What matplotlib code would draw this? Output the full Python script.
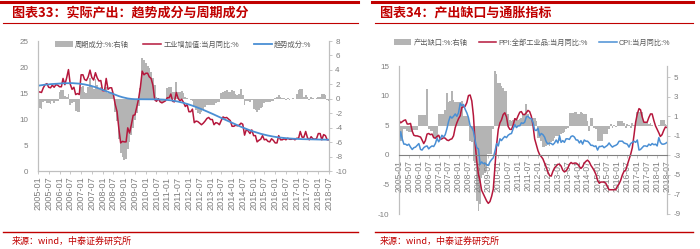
import numpy as np
import pandas as pd
import matplotlib
matplotlib.use('Agg')
import matplotlib.pyplot as plt
import matplotlib.dates as mdates
from matplotlib.lines import Line2D

plt.rcParams['font.family'] = ['Liberation Sans', 'Noto Sans CJK SC']
plt.rcParams['axes.unicode_minus'] = False

months = pd.date_range('2005-01-01', '2018-07-01', freq='MS')

# chart 33: industrial value added yoy, trend and cycle (cycle on right axis)
iva = [15.2, 15.2, 15.1, 16.0, 16.6, 16.8, 16.1, 16.0, 16.5, 16.1, 16.6, 16.5,
       16.2, 16.2, 17.8, 16.6, 17.9, 19.5, 16.7, 15.7, 16.1, 14.7, 14.9, 14.7,
       18.5, 18.5, 17.6, 17.4, 18.1, 19.4, 18.0, 17.5, 18.9, 17.9, 17.3, 17.4,
       15.4, 15.4, 17.8, 15.7, 16.0, 16.0, 14.7, 12.8, 11.4, 8.2, 5.4, 5.7,
       5.6, 5.6, 8.3, 7.3, 8.9, 10.7, 10.8, 12.3, 13.9, 16.1, 19.2, 18.5,
       18.8, 18.8, 18.1, 17.8, 16.5, 13.7, 13.4, 13.9, 13.3, 13.1, 13.3, 13.5,
       14.1, 14.1, 14.8, 13.4, 13.3, 15.1, 14.0, 13.5, 13.8, 13.2, 12.4, 12.8,
       11.4, 11.4, 11.9, 9.3, 9.6, 9.5, 9.2, 8.9, 9.2, 9.6, 10.1, 10.3,
       9.9, 9.9, 8.9, 9.3, 9.2, 8.9, 9.7, 10.4, 10.2, 10.3, 10.0, 9.7,
       8.6, 8.6, 8.8, 8.7, 8.8, 9.2, 9.0, 6.9, 8.0, 7.7, 7.2, 7.9,
       6.8, 6.8, 5.6, 5.9, 6.1, 6.8, 6.0, 6.1, 5.7, 5.6, 6.2, 5.9,
       5.4, 5.4, 6.8, 6.0, 6.0, 6.2, 6.0, 6.3, 6.1, 6.1, 6.2, 6.0,
       6.3, 6.3, 7.6, 6.5, 6.5, 7.6, 6.4, 6.0, 6.6, 6.2, 6.1, 6.2,
       7.2, 7.2, 6.0, 7.0, 6.8, 6.0, 6.0]

trend = [16.4, 16.45, 16.5, 16.55, 16.6, 16.62, 16.65, 16.7, 16.72, 16.75, 16.78, 16.8,
         16.82, 16.85, 16.87, 16.88, 16.9, 16.9, 16.9, 16.9, 16.88, 16.86, 16.84, 16.8,
         16.75, 16.7, 16.65, 16.58, 16.5, 16.42, 16.33, 16.23, 16.12, 16.0, 15.88, 15.75,
         15.62, 15.48, 15.34, 15.2, 15.06, 14.92, 14.78, 14.65, 14.52, 14.4, 14.29, 14.19,
         14.1, 14.02, 13.95, 13.9, 13.86, 13.83, 13.81, 13.8, 13.8, 13.8, 13.8, 13.8,
         13.8, 13.8, 13.8, 13.8, 13.8, 13.8, 13.79, 13.78, 13.77, 13.75, 13.73, 13.7,
         13.67, 13.63, 13.59, 13.54, 13.48, 13.42, 13.35, 13.27, 13.19, 13.1, 13.0, 12.9,
         12.79, 12.68, 12.56, 12.44, 12.31, 12.18, 12.04, 11.9, 11.76, 11.61, 11.46, 11.31,
         11.16, 11.0, 10.85, 10.69, 10.53, 10.37, 10.21, 10.05, 9.89, 9.73, 9.57, 9.41,
         9.25, 9.1, 8.95, 8.8, 8.65, 8.5, 8.36, 8.22, 8.08, 7.95, 7.82, 7.7,
         7.58, 7.47, 7.36, 7.26, 7.16, 7.07, 6.98, 6.9, 6.82, 6.75, 6.68, 6.62,
         6.56, 6.51, 6.46, 6.42, 6.38, 6.34, 6.31, 6.28, 6.25, 6.23, 6.21, 6.19,
         6.17, 6.15, 6.14, 6.13, 6.12, 6.11, 6.1, 6.09, 6.08, 6.07, 6.06, 6.05,
         6.05, 6.04, 6.04, 6.03, 6.03, 6.02, 6.02]

cycle = [-1.3, -1.3, -1.4, -0.4, -0.3, -0.6, -0.6, -0.7, -0.3, -0.6, -0.3, -0.3,
         1.0, 1.2, 1.2, 0.4, 0.3, 0.6, -0.8, -0.6, -0.4, -1.7, -1.8, -1.8,
         1.7, 1.8, 1.0, 0.8, 1.6, 2.9, 1.7, 1.3, 2.7, 1.9, 1.4, 1.6,
         0.9, 0.9, 1.6, 0.8, 0.9, 1.0, 0.4, -1.8, -3.1, -5.5, -7.5, -8.0,
         -8.5, -8.3, -7.0, -6.0, -5.0, -4.0, -3.0, -2.0, -1.0, 1.5, 5.6, 5.4,
         5.0, 4.6, 4.3, 3.7, 2.9, 1.9, 0.3, 0.1, -0.3, -0.4, -0.3, -0.2,
         1.5, 1.6, 1.6, 1.0, 1.0, 2.3, 1.0, 0.9, 1.1, 0.8, 0.3, 0.1,
         0.0, -0.1, -0.3, -1.2, -1.6, -2.0, -2.1, -1.9, -1.6, -1.2, -0.9, -0.8,
         -0.9, -0.8, -0.8, -0.6, -0.5, -0.4, 0.8, 1.0, 1.1, 1.2, 1.0, 0.9,
         1.2, 1.1, 0.6, 0.5, 0.6, 1.4, 0.5, -0.9, -0.3, -0.3, -0.4, -0.2,
         -1.4, -1.5, -1.8, -1.6, -1.3, -1.1, -0.6, -0.5, -0.5, -0.4, -0.3, -0.3,
         0.1, 0.2, 0.5, 0.3, 0.1, 0.1, -0.1, 0.1, -0.1, 0.0, 0.1, 0.0,
         0.6, 1.2, 1.4, 1.3, 0.3, 0.5, 0.2, -0.1, 0.3, 0.1, 0.0, 0.1,
         0.2, 0.3, 0.6, 0.7, 0.5, -0.1, -0.3]

# chart 34: output gap (right axis), PPI and CPI yoy
gap = [-1.5, -1.5, -1.5, -0.3, -0.3, -0.5, -0.6, -0.6, -0.6, -0.4, -0.4, -0.4,
       1.1, 1.1, 1.1, 1.1, 1.1, 3.8, -0.3, -0.5, -0.5, -1.2, -1.2, -1.2,
       1.2, 1.2, 1.2, 1.2, 1.6, 3.4, 2.5, 2.6, 3.6, 2.7, 2.5, 2.4,
       2.5, 2.5, 2.6, 1.0, 1.0, 1.0, 0.9, -1.5, -1.6, -3.6, -3.8, -7.7,
       -8.7, -8.0, -5.3, -5.0, -4.8, -4.6, -2.9, -2.9, -2.9, -0.3, 5.6, 5.3,
       4.4, 4.4, 4.1, 3.9, 3.6, 3.6, 1.2, 0.6, 0.5, 0.6, 0.8, 0.7,
       0.6, 0.7, 0.8, 1.2, 1.2, 2.2, 1.2, 0.8, 0.8, 0.8, 0.8, 0.5,
       -1.2, -1.2, -1.5, -2.2, -2.2, -2.0, -1.8, -2.0, -1.6, -1.5, -1.2, -1.0,
       -1.0, -1.5, -0.8, -0.7, -0.6, -0.3, -0.2, 1.3, 1.3, 1.3, 1.4, 1.4,
       1.2, 1.2, 1.4, 1.3, 1.2, 1.2, 0.5, -0.5, 0.8, 0.8, -0.2, -0.3,
       -1.5, -1.5, -1.5, -1.5, -0.8, -0.8, -0.8, -0.3, 0.2, -0.2, 0.1, -0.1,
       0.5, 0.5, 0.5, 0.5, 0.3, -0.2, 0.2, 0.1, -0.2, 0.3, 0.1, 0.0,
       1.4, 1.4, 1.4, 1.4, 0.3, 0.3, 0.3, 0.2, 0.3, 0.1, 0.0, 0.1,
       0.0, 0.1, 0.6, 0.6, 0.6, 0.2, 0.1]

ppi = [5.8, 5.4, 5.6, 5.8, 5.9, 5.2, 5.2, 5.3, 4.0, 3.3, 3.2, 3.2,
       3.1, 3.0, 2.5, 1.9, 2.4, 3.5, 3.6, 3.4, 3.5, 2.9, 2.8, 3.1,
       3.3, 2.6, 2.7, 2.9, 2.8, 2.5, 2.4, 2.6, 2.7, 3.2, 4.6, 5.4,
       6.1, 6.6, 8.0, 8.1, 8.2, 8.8, 10.0, 10.1, 9.1, 6.6, 2.0, -1.1,
       -3.3, -4.5, -6.0, -6.6, -7.2, -7.8, -8.2, -7.9, -7.0, -5.8, -2.1, 1.7,
       4.3, 5.4, 5.9, 6.8, 7.1, 6.4, 4.8, 4.3, 4.3, 5.0, 6.1, 5.9,
       6.6, 7.2, 7.3, 6.8, 6.8, 7.1, 7.5, 7.3, 6.5, 5.0, 2.7, 1.7,
       0.7, 0.0, -0.3, -0.7, -1.4, -2.1, -2.9, -3.5, -3.6, -2.8, -2.2, -1.9,
       -1.6, -1.6, -1.9, -2.6, -2.9, -2.7, -2.3, -1.6, -1.3, -1.5, -1.4, -1.4,
       -1.6, -2.0, -2.3, -2.0, -1.4, -1.1, -0.9, -1.2, -1.8, -2.2, -2.7, -3.3,
       -4.3, -4.8, -4.6, -4.6, -4.6, -4.8, -5.4, -5.9, -5.9, -5.9, -5.9, -5.9,
       -5.3, -4.9, -4.3, -3.4, -2.8, -2.6, -1.7, -0.8, 0.1, 1.2, 3.3, 5.5,
       6.9, 7.8, 7.6, 6.4, 5.5, 5.5, 5.5, 6.3, 6.9, 6.9, 5.8, 4.9,
       4.3, 3.7, 3.1, 3.4, 4.1, 4.7, 4.6]

cpi = [1.9, 3.9, 2.7, 1.8, 1.8, 1.6, 1.8, 1.3, 0.9, 1.2, 1.3, 1.6,
       1.9, 0.9, 0.8, 1.2, 1.4, 1.5, 1.0, 1.3, 1.5, 1.4, 1.9, 2.8,
       2.2, 2.7, 3.3, 3.0, 3.4, 4.4, 5.6, 6.5, 6.2, 6.5, 6.9, 6.5,
       7.1, 8.7, 8.3, 8.5, 7.7, 7.1, 6.3, 4.9, 4.6, 4.0, 2.4, 1.2,
       1.0, -1.6, -1.2, -1.5, -1.4, -1.7, -1.8, -1.2, -0.8, -0.5, 0.6, 1.9,
       1.5, 2.7, 2.4, 2.8, 3.1, 2.9, 3.3, 3.5, 3.6, 4.4, 5.1, 4.6,
       4.9, 4.9, 5.4, 5.3, 5.5, 6.4, 6.5, 6.2, 6.1, 5.5, 4.2, 4.1,
       4.5, 3.2, 3.6, 3.4, 3.0, 2.2, 1.8, 2.0, 1.9, 1.7, 2.0, 2.5,
       2.0, 3.2, 2.1, 2.4, 2.1, 2.7, 2.7, 2.6, 3.1, 3.2, 3.0, 2.5,
       2.5, 2.0, 2.4, 1.8, 2.5, 2.3, 2.3, 2.0, 1.6, 1.6, 1.4, 1.5,
       0.8, 1.4, 1.4, 1.5, 1.2, 1.4, 1.6, 2.0, 1.6, 1.3, 1.5, 1.6,
       1.8, 2.3, 2.3, 2.3, 2.0, 1.9, 1.8, 1.3, 1.9, 2.1, 2.3, 2.1,
       2.5, 0.8, 0.9, 1.2, 1.5, 1.5, 1.4, 1.8, 1.6, 1.9, 1.7, 1.8,
       1.5, 2.9, 2.1, 1.8, 1.8, 1.9, 2.1]

RED = '#B5173C'
BLUE = '#4A8FD4'
GRAY = '#B4B4B4'
TXT = '#7F7F7F'
SPINE = '#BFBFBF'
HEAD = '#C00000'
CJK = ['Noto Sans CJK SC']


def style_pair(ax, ax2, xfs):
    for a in (ax, ax2):
        a.spines['top'].set_visible(False)
        for s in ('left', 'right', 'bottom'):
            a.spines[s].set_color(SPINE)
            a.spines[s].set_linewidth(0.8)
    ax.tick_params(axis='y', length=0, pad=7, labelsize=5.8, labelcolor=TXT)
    ax2.tick_params(axis='y', length=2.5, width=0.6, color=SPINE, pad=2,
                    labelsize=5.8, labelcolor=TXT)
    ax.tick_params(axis='x', length=2.5, width=0.6, color=SPINE, pad=1.5,
                   labelsize=xfs, labelcolor=TXT, labelrotation=90)
    ax.xaxis.set_major_locator(mdates.MonthLocator(bymonth=[1, 7]))
    ax.xaxis.set_major_formatter(mdates.DateFormatter('%Y-%m'))
    ax.set_xlim(months[0], months[-1])
    ax.set_zorder(ax2.get_zorder() + 1)
    ax.patch.set_visible(False)


fig = plt.figure(figsize=(7, 2.49), dpi=100)

# ---- left chart
ax1 = fig.add_axes([38/700, 1-171/249, 291/700, 130/249])
ax1b = ax1.twinx()
ax1b.bar(months, cycle, width=31, color=GRAY, label='周期成分:%:右轴')
ax1.plot(months, iva, color=RED, lw=1.1, label='工业增加值:当月同比:%')
ax1.plot(months, trend, color=BLUE, lw=1.3, label='趋势成分:%')
ax1.set_ylim(0, 25)
ax1.set_yticks(range(0, 26, 5))
ax1b.set_ylim(-10, 8)
ax1b.set_yticks(range(-10, 9, 2))
style_pair(ax1, ax1b, 6.6)

h1, l1 = ax1b.get_legend_handles_labels()
h2, l2 = ax1.get_legend_handles_labels()
fig.legend(h1 + h2, l1 + l2, loc='center', bbox_to_anchor=(183/700, 1-45/249),
           ncol=3, frameon=False, prop={'size': 5.2}, labelcolor='#595959',
           handlelength=2.5, handletextpad=0.3, columnspacing=2.0,
           handleheight=0.9)

# ---- right chart
ax2 = fig.add_axes([399/700, 1-214/249, 268/700, 148/249])
ax2b = ax2.twinx()
ax2b.bar(months, gap, width=31, color=GRAY, label='产出缺口:%:右轴')
ax2.plot(months, ppi, color=RED, lw=1.1, label='PPI:全部工业品:当月同比:%')
ax2.plot(months, cpi, color=BLUE, lw=1.1, label='CPI:当月同比:%')
ax2.set_ylim(-10, 15)
ax2.set_yticks(range(-10, 16, 5))
ax2b.set_ylim(-9, 6.13)
ax2b.set_yticks(range(-9, 6, 2))
style_pair(ax2, ax2b, 6.2)
ax2.spines['bottom'].set_position(('data', 0))
ax2.spines['bottom'].set_color('#808080')
ax2b.spines['bottom'].set_visible(False)

h1, l1 = ax2b.get_legend_handles_labels()
h2, l2 = ax2.get_legend_handles_labels()
fig.legend(h1 + h2, l1 + l2, loc='center', bbox_to_anchor=(532/700, 1-43/249),
           ncol=3, frameon=False, prop={'size': 5.2}, labelcolor='#595959',
           handlelength=2.4, handletextpad=0.3, columnspacing=1.6,
           handleheight=0.9)

# ---- headers, rules and source lines
for x0, x1 in ((0, 358), (372, 693)):
    fig.add_artist(Line2D([x0/700, x1/700], [1-2/249]*2, color=HEAD, lw=2.2))
    fig.add_artist(Line2D([(x0+3)/700, x1/700], [1-23/249]*2, color=HEAD, lw=0.8))
    fig.add_artist(Line2D([(x0+3)/700, x1/700], [1-232/249]*2, color=HEAD, lw=1.0))

fig.text(12/700, 1-13/249, '图表33：实际产出：趋势成分与周期成分', color=HEAD,
         fontsize=9.4, fontweight='bold', va='center', family=CJK)
fig.text(380/700, 1-13/249, '图表34：产出缺口与通胀指标', color=HEAD,
         fontsize=9.4, fontweight='bold', va='center', family=CJK)
fig.text(12/700, 1-241/249, '来源：wind，中泰证券研究所', color=HEAD,
         fontsize=6.5, va='center', family=CJK)
fig.text(380/700, 1-241/249, '来源：wind，中泰证券研究所', color=HEAD,
         fontsize=6.5, va='center', family=CJK)

fig.savefig('out.png', dpi=100)
